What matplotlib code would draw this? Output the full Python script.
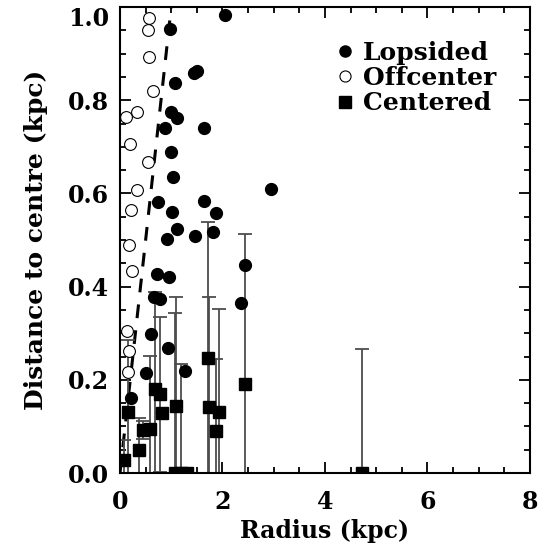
import numpy as np
import matplotlib
matplotlib.use('Agg')
from matplotlib import pyplot as plt
from matplotlib.lines import Line2D
from matplotlib.ticker import MultipleLocator

###資料: 讀圖估計
# Lopsided (實心圓)
lop_x = [2.05, 0.98, 1.45, 1.50, 1.07, 1.00, 1.11, 0.87, 1.63, 0.99, 1.03, 2.95,
         0.75, 1.01, 1.63, 1.87, 1.11, 0.91, 1.46, 1.81, 2.43, 2.36, 0.73, 0.96,
         0.67, 0.79, 0.61, 0.93, 0.51, 1.27, 0.21]
lop_y = [0.983, 0.954, 0.858, 0.863, 0.836, 0.775, 0.763, 0.740, 0.740, 0.690, 0.636, 0.609,
         0.582, 0.561, 0.584, 0.557, 0.523, 0.502, 0.509, 0.518, 0.446, 0.364, 0.427, 0.420,
         0.378, 0.373, 0.298, 0.268, 0.215, 0.220, 0.160]

# Offcenter (空心圓)
off_x = [0.57, 0.55, 0.57, 0.64, 0.33, 0.12, 0.20, 0.55, 0.34, 0.21, 0.18, 0.23, 0.14, 0.18, 0.16]
off_y = [0.977, 0.951, 0.893, 0.820, 0.775, 0.765, 0.706, 0.668, 0.607, 0.564, 0.489, 0.434,
         0.305, 0.262, 0.217]

# Centered (方塊 + 誤差棒)
cen_x = [0.085, 0.16, 0.37, 0.455, 0.585, 0.68, 0.79, 0.81, 1.09, 1.08, 1.19, 1.31,
         1.71, 1.74, 1.87, 1.93, 2.43, 4.73]
cen_y = [0.029, 0.132, 0.049, 0.092, 0.094, 0.180, 0.169, 0.128, 0.144, 0.0, 0.0, 0.0,
         0.247, 0.142, 0.091, 0.132, 0.192, 0.0]
cen_err = [0.042, 0.153, 0.070, 0.020, 0.157, 0.209, 0.166, 0.0, 0.233, 0.343, 0.235, 0.0,
           0.292, 0.236, 0.153, 0.220, 0.322, 0.266]

# 虛線 distance = radius
line_x = [0.0, 1.05]
line_y = [0.0, 1.05]

plt.rcParams['font.family'] = ['DejaVu Serif']
plt.rcParams['font.weight'] = 'bold'

fig = plt.figure(figsize=(5.43, 5.58), dpi=100)
ax = fig.add_axes([0.221, 0.1523, 0.755, 0.835])

ax.plot(line_x, line_y, color='black', lw=2.2, ls=(0, (4.5, 4)))

ax.errorbar(cen_x, cen_y, yerr=cen_err, fmt='none', ecolor='0.3', elinewidth=1.3,
            capsize=5, capthick=1.3)
ax.plot(cen_x, cen_y, 's', color='black', ms=9, ls='none')
ax.plot(lop_x, lop_y, 'o', color='black', ms=8.5, ls='none')
ax.plot(off_x, off_y, 'o', mfc='white', mec='black', mew=0.8, ms=8.5, ls='none')

ax.set_xlim(0, 8)
ax.set_ylim(0, 1.0)
ax.xaxis.set_major_locator(MultipleLocator(2))
ax.xaxis.set_minor_locator(MultipleLocator(0.5))
ax.yaxis.set_major_locator(MultipleLocator(0.2))
ax.yaxis.set_minor_locator(MultipleLocator(0.05))
ax.yaxis.set_major_formatter(plt.FormatStrFormatter('%.1f'))
ax.tick_params(which='both', direction='in', top=True, right=True, width=1.3,
               labelsize=17)
ax.tick_params(axis='x', pad=12)
ax.tick_params(axis='y', pad=8)
ax.tick_params(which='major', length=8)
ax.tick_params(which='minor', length=4)
for s in ax.spines.values():
    s.set_linewidth(1.5)

ax.set_xlabel('Radius (kpc)', fontsize=17, fontweight='bold', labelpad=4)
ax.set_ylabel('Distance to centre (kpc)', fontsize=18, fontweight='bold', labelpad=14)

handles = [Line2D([], [], marker='o', color='black', ls='none', ms=8),
           Line2D([], [], marker='o', mfc='white', mec='black', mew=0.8, ls='none', ms=8),
           Line2D([], [], marker='s', color='black', ls='none', ms=8)]
ax.legend(handles, ['Lopsided', 'Offcenter', 'Centered'], loc='upper right',
          bbox_to_anchor=(0.96, 0.965), frameon=False, handlelength=0.8,
          handletextpad=0.3, labelspacing=0.05, borderpad=0.2,
          prop={'size': 18, 'weight': 'bold'})

# 最上面的 1.0 往下放, 避免被切掉
fig.canvas.draw()
ax.yaxis.get_major_ticks()[-1].label1.set_verticalalignment('top')
for t in ax.yaxis.get_major_ticks():
    if abs(t.get_loc() - 1.0) < 1e-6:
        t.label1.set_verticalalignment('top')

fig.savefig('out.png', dpi=100)
